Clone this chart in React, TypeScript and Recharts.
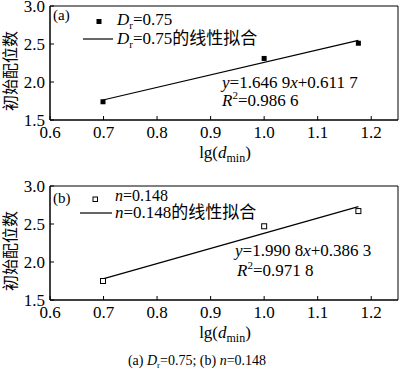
import React from 'react';
import { ScatterChart, Scatter, XAxis, YAxis, ReferenceArea } from 'recharts';

const xTicks = [0.6, 0.7, 0.8, 0.9, 1.0, 1.1, 1.2];
const yTicks = [1.5, 2.0, 2.5, 3.0];
const lgDmin = [0.699, 1.0, 1.176];
const coordDr = [1.74, 2.31, 2.51];
const coordN = [1.75, 2.47, 2.67];
const fitX = [0.699, 1.176];
const fitDr = [1.763, 2.548];
const fitN = [1.778, 2.728];

const SERIF = '"Liberation Serif", "Times New Roman", "Noto Sans CJK SC", serif';
const CJK = '"Liberation Serif", "Noto Sans CJK SC", serif';

const toPts = (xs: number[], ys: number[]) => xs.map((x, i) => ({ x, y: ys[i] }));

const XTick = ({ x, y, payload }: any) => (
  <g>
    <line x1={x} y1={y} x2={x} y2={y - 4} stroke="#000" strokeWidth={1} />
    <text x={x} y={y + 18} textAnchor="middle" fontSize={17} fontFamily={SERIF} fill="#000">
      {Number(payload.value).toFixed(1)}
    </text>
  </g>
);

const YTick = ({ x, y, payload }: any) => (
  <g>
    <line x1={x} y1={y} x2={x + 4} y2={y} stroke="#000" strokeWidth={1} />
    <text x={x - 5} y={y + 6} textAnchor="end" fontSize={17} fontFamily={SERIF} fill="#000">
      {Number(payload.value).toFixed(1)}
    </text>
  </g>
);

const filledSquare = ({ cx, cy }: any) => (
  <rect x={cx - 2.5} y={cy - 2.5} width={5} height={5} fill="#000" />
);
const openSquare = ({ cx, cy }: any) => (
  <rect x={cx - 2.5} y={cy - 2.5} width={5} height={5} fill="#fff" stroke="#000" strokeWidth={1} />
);
const noDot = () => <g />;

// each panel sits 10px higher with a 16px top margin so the "3.0" label is not clipped
const Panel = ({ top, pts, fit, shape }: any) => (
  <div style={{ position: 'absolute', left: 0, top: top - 10 }}>
    <ScatterChart width={400} height={182} margin={{ top: 16, right: 2, left: 0, bottom: 0 }}>
      <XAxis
        type="number"
        dataKey="x"
        domain={[0.6, 1.25]}
        ticks={xTicks}
        interval={0}
        tickSize={0}
        tickMargin={0}
        tick={<XTick />}
        height={52}
        axisLine={{ stroke: '#000' }}
        allowDataOverflow
      />
      <YAxis
        type="number"
        dataKey="y"
        domain={[1.5, 3]}
        ticks={yTicks}
        interval={0}
        tickSize={0}
        tickMargin={0}
        tick={<YTick />}
        width={50}
        axisLine={{ stroke: '#000' }}
        allowDataOverflow
      />
      <ReferenceArea x1={0.6} x2={1.25} y1={1.5} y2={3} fill="none" stroke="#000" strokeWidth={1} ifOverflow="visible" />
      <Scatter data={fit} line={{ stroke: '#000', strokeWidth: 1.2 }} shape={noDot} isAnimationActive={false} />
      <Scatter data={pts} shape={shape} isAnimationActive={false} />
    </ScatterChart>
  </div>
);

const AxisLabels = ({ dy }: { dy: number }) => (
  <g>
    <text
      transform={`translate(16, ${71 + dy}) rotate(-90)`}
      textAnchor="middle"
      fontSize={16}
      fontFamily={CJK}
      fill="#000"
    >
      初始配位数
    </text>
    <text x={225} y={158 + dy} textAnchor="middle" fontSize={17} fontFamily={SERIF} fill="#000">
      lg(<tspan fontStyle="italic">d</tspan>
      <tspan fontSize={12} dy={4}>min</tspan>
      <tspan dy={-4}>)</tspan>
    </text>
  </g>
);

export default function App() {
  return (
    <div style={{ position: 'absolute', left: 0, top: 0, width: 400, height: 372, background: '#fff' }}>
      <Panel top={0} pts={toPts(lgDmin, coordDr)} fit={toPts(fitX, fitDr)} shape={filledSquare} />
      <Panel top={180} pts={toPts(lgDmin, coordN)} fit={toPts(fitX, fitN)} shape={openSquare} />
      <svg width={400} height={372} style={{ position: 'absolute', left: 0, top: 0, pointerEvents: 'none' }}>
        <AxisLabels dy={0} />
        <AxisLabels dy={180} />

        {/* legend (a) */}
        <text x={53} y={20} fontSize={15} fontFamily={SERIF} fill="#000">(a)</text>
        <rect x={96.5} y={19} width={5} height={5} fill="#000" />
        <text x={117} y={25} fontSize={17} fontFamily={SERIF} fill="#000">
          <tspan fontStyle="italic">D</tspan>
          <tspan fontSize={11} dy={4}>r</tspan>
          <tspan dy={-4}>=0.75</tspan>
        </text>
        <line x1={83} y1={39} x2={113} y2={39} stroke="#000" strokeWidth={1.2} />
        <text x={117} y={44} fontSize={17} fontFamily={CJK} fill="#000">
          <tspan fontStyle="italic">D</tspan>
          <tspan fontSize={11} dy={4}>r</tspan>
          <tspan dy={-4}>=0.75的线性拟合</tspan>
        </text>
        <text x={222} y={88} fontSize={17} fontFamily={SERIF} fill="#000">
          <tspan fontStyle="italic">y</tspan>=1.646 9<tspan fontStyle="italic">x</tspan>+0.611 7
        </text>
        <text x={222} y={106} fontSize={17} fontFamily={SERIF} fill="#000">
          <tspan fontStyle="italic">R</tspan>
          <tspan fontSize={11} dy={-7}>2</tspan>
          <tspan dy={7}>=0.986 6</tspan>
        </text>

        {/* legend (b) */}
        <text x={53} y={203} fontSize={15} fontFamily={SERIF} fill="#000">(b)</text>
        <rect x={93} y={197} width={4.5} height={4.5} fill="#fff" stroke="#000" strokeWidth={1} />
        <text x={115} y={201} fontSize={16} fontFamily={SERIF} fill="#000">
          <tspan fontStyle="italic">n</tspan>=0.148
        </text>
        <line x1={80} y1={213} x2={112} y2={213} stroke="#000" strokeWidth={1.2} />
        <text x={115} y={218} fontSize={17} fontFamily={CJK} fill="#000">
          <tspan fontStyle="italic">n</tspan>=0.148的线性拟合
        </text>
        <text x={235} y={256} fontSize={17} fontFamily={SERIF} fill="#000">
          <tspan fontStyle="italic">y</tspan>=1.990 8<tspan fontStyle="italic">x</tspan>+0.386 3
        </text>
        <text x={237} y={276} fontSize={17} fontFamily={SERIF} fill="#000">
          <tspan fontStyle="italic">R</tspan>
          <tspan fontSize={11} dy={-7}>2</tspan>
          <tspan dy={7}>=0.971 8</tspan>
        </text>

        {/* caption */}
        <text x={197} y={365} textAnchor="middle" fontSize={14} fontFamily={SERIF} fill="#000">
          (a) <tspan fontStyle="italic">D</tspan>
          <tspan fontSize={9} dy={3}>r</tspan>
          <tspan dy={-3}>=0.75; (b) </tspan>
          <tspan fontStyle="italic">n</tspan>=0.148
        </text>
      </svg>
    </div>
  );
}
